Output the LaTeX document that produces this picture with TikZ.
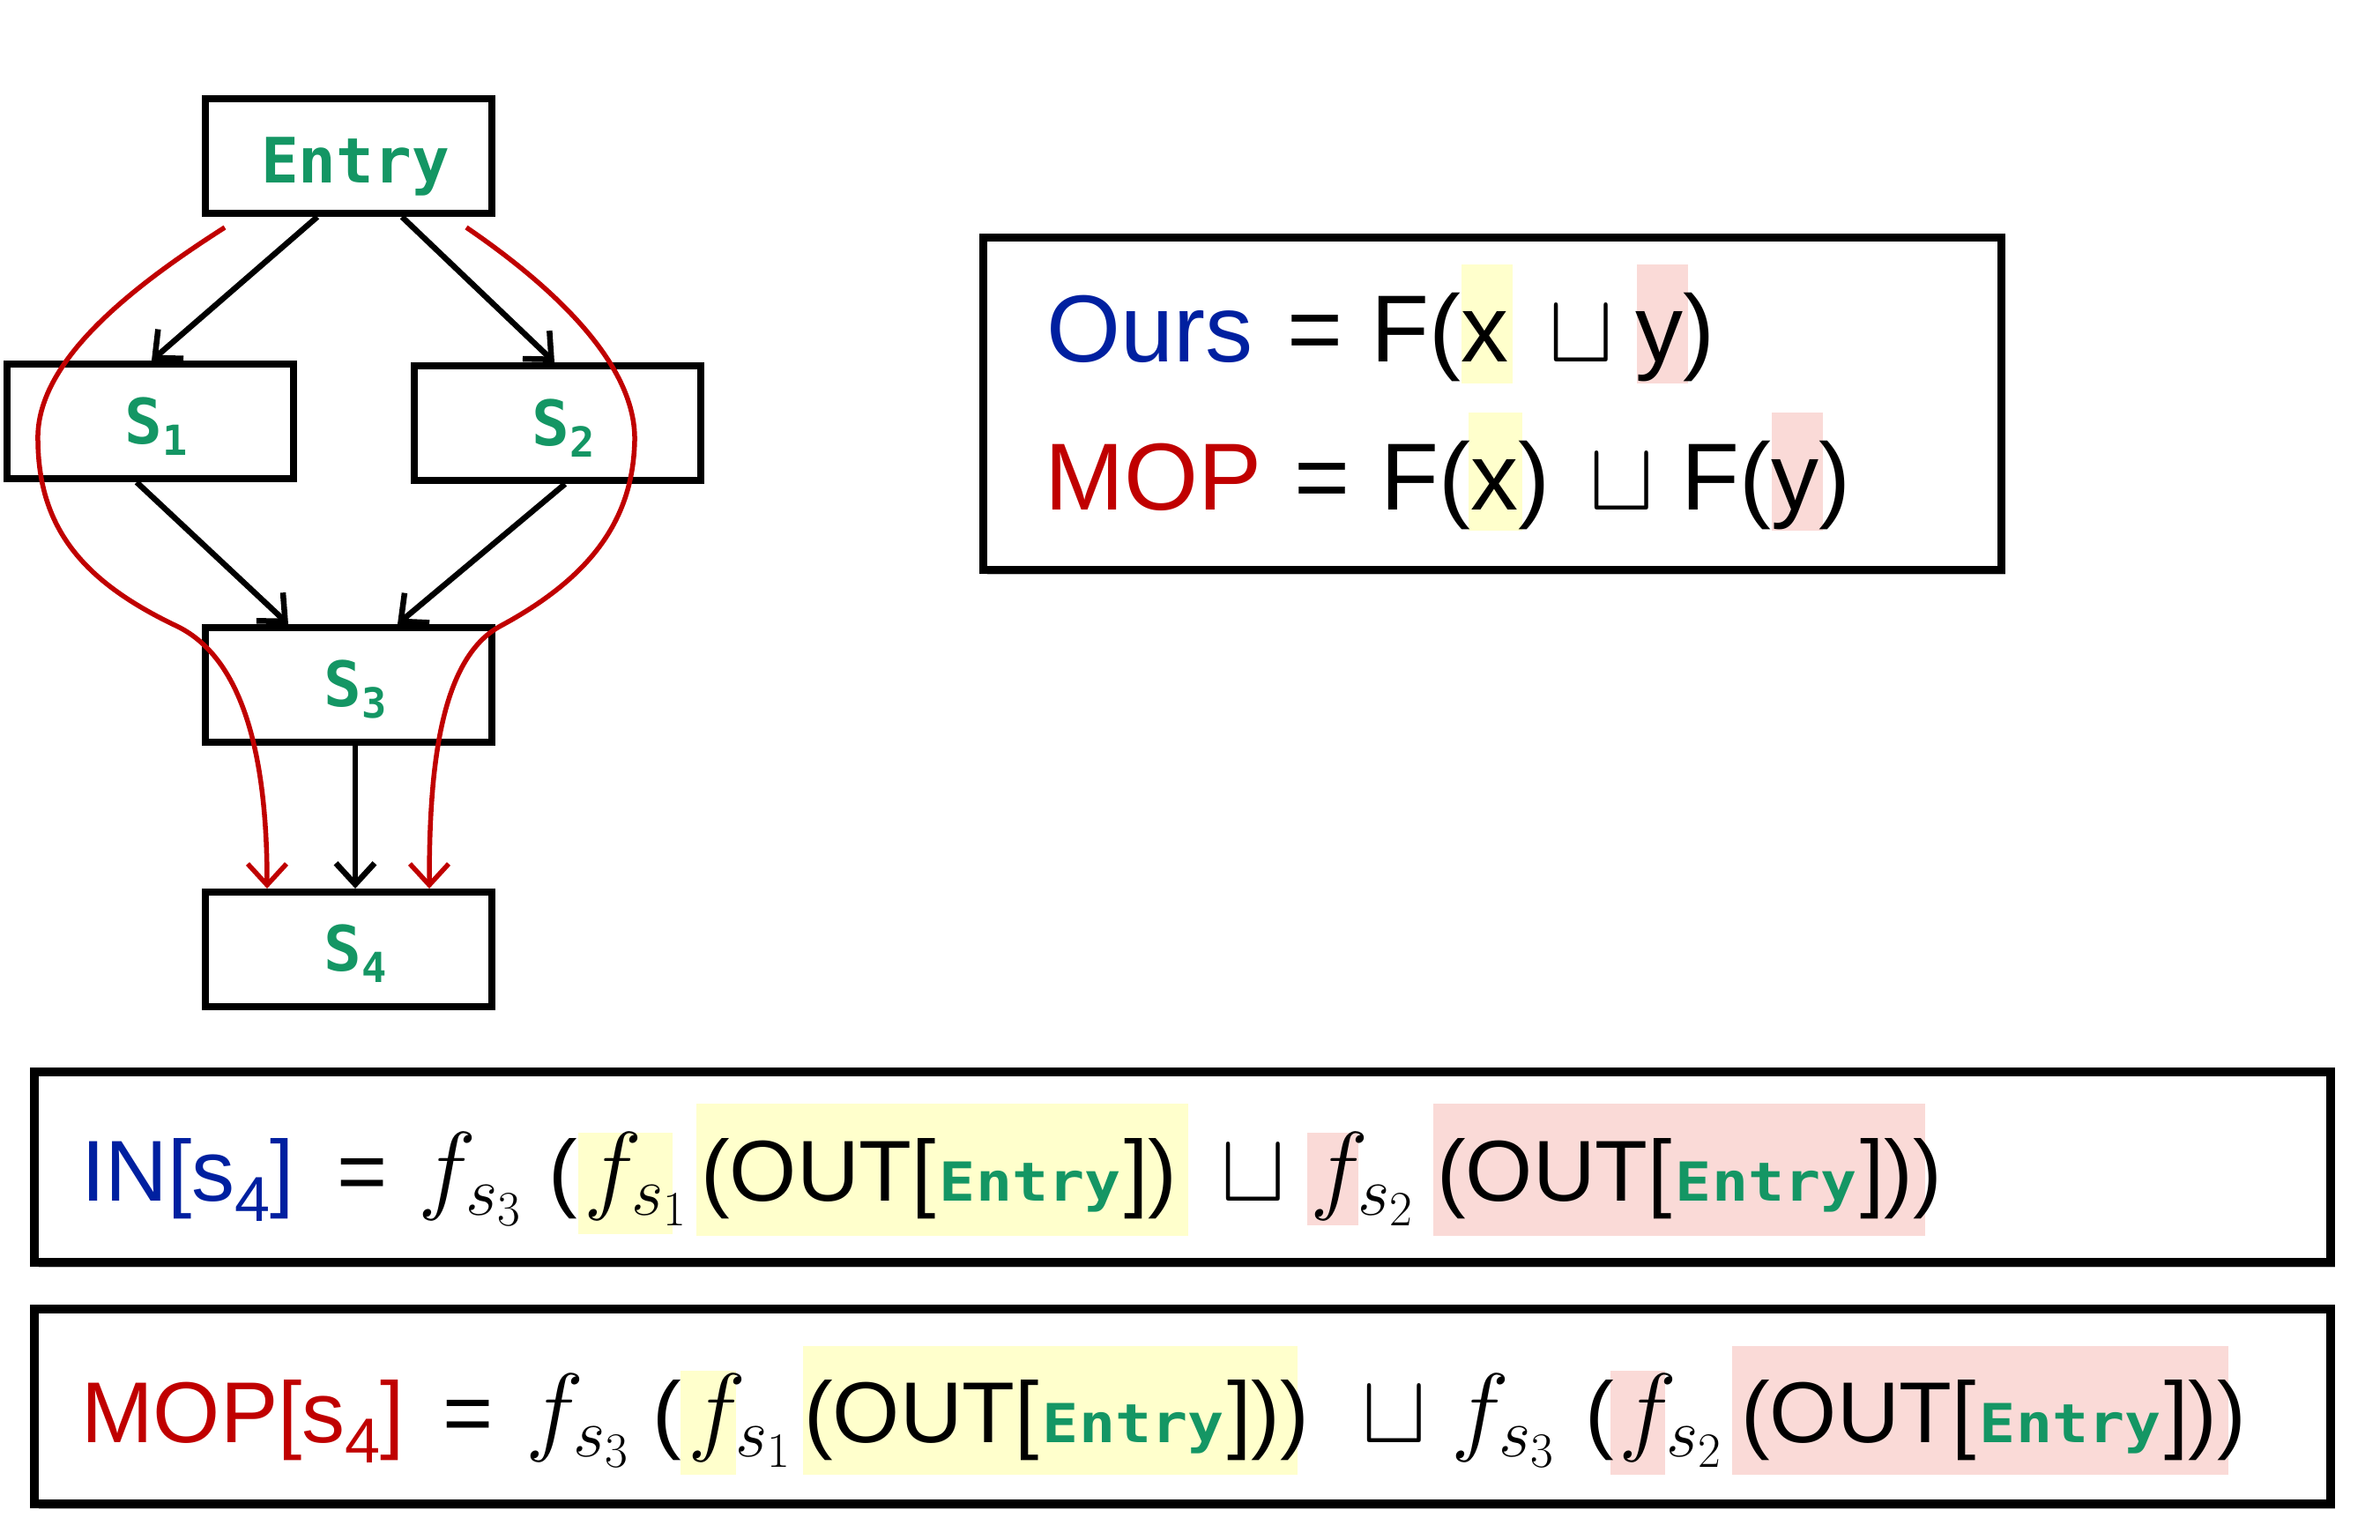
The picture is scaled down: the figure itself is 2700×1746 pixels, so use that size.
\documentclass[tikz,border=0pt]{standalone}
\usepackage{fix-cm}
\usepackage{fontspec}
\setmainfont{Liberation Sans}
\newfontfamily\monof{DejaVu Sans Mono}
\newfontfamily\monowide{DejaVu Sans Mono}[FakeStretch=1.12]
\usetikzlibrary{arrows.meta,shadows}
\definecolor{entgreen}{RGB}{20,150,100}
\definecolor{oursblue}{RGB}{0,32,160}
\definecolor{mopred}{RGB}{192,0,0}
\definecolor{hlyellow}{RGB}{255,255,204}
\definecolor{hlpink}{RGB}{250,218,215}
\newcommand{\setfs}[1]{\fontsize{#1}{#1}\selectfont}
\newcommand{\ent}{{\monowide\bfseries\setfs{61}\color{entgreen}\kern4pt Entry\kern4pt}}
\newcommand{\boxsub}[1]{\raisebox{-13pt}{\setfs{47}#1}}
\newcommand{\eqsub}[1]{\raisebox{-23pt}{\setfs{72}#1}}
\begin{document}
\begin{tikzpicture}[x=1pt,y=-1pt,
  blk/.style={draw=black, line width=8pt, fill=white, minimum width=325pt, minimum height=130pt,
    inner sep=0pt, text=entgreen, font=\monof\bfseries\setfs{71}, text height=50pt, text depth=0pt,
    drop shadow={shadow xshift=4pt, shadow yshift=-4pt, opacity=0.25, fill=black}},
  frame/.style={draw=black, fill=white, inner sep=0pt,
    drop shadow={shadow xshift=5pt, shadow yshift=-6pt, opacity=0.25, fill=black}},
  blkarr/.style={draw=black, line width=6.5pt, -{Straight Barb[length=24pt,width=44pt,line width=6.5pt]}},
  redarr/.style={draw=mopred, line width=5.5pt, -{Straight Barb[length=24pt,width=44pt,line width=5.5pt]}},
  txtA/.style={anchor=base west, inner sep=0pt, font=\setfs{108}},
  txtB/.style={anchor=base west, inner sep=0pt, font=\setfs{98}},
  mathf/.style={anchor=base west, inner sep=0pt, font=\setfs{112}},
  cupA/.style={anchor=base west, inner sep=0pt, font=\setfs{112}}
]
\useasboundingbox (0,0) rectangle (2700,1746);
\fill[white] (0,0) rectangle (2700,1746);

% ---- flow graph ----
\node[blk, text height=60pt] (Entry) at (395,177) {\kern16pt Entry};
\node[blk] (S1) at (170,478) {\kern14ptS\boxsub{1}};
\node[blk] (S2) at (632,480) {\kern14ptS\boxsub{2}};
\node[blk, text height=48pt] (S3) at (395,777) {\kern16ptS\boxsub{3}};
\node[blk, text height=48pt] (S4) at (395,1077) {\kern16ptS\boxsub{4}};

\draw[blkarr] ([xshift=-35pt]Entry.south) -- ([xshift=2pt]S1.north);
\draw[blkarr] ([xshift=61pt]Entry.south) -- ([xshift=-3pt]S2.north);
\draw[blkarr] ([xshift=-15pt]S1.south) -- ([xshift=-68pt]S3.north);
\draw[blkarr] ([xshift=9pt]S2.south) -- ([xshift=56pt]S3.north);
\draw[blkarr] ([xshift=8pt]S3.south) -- ([xshift=8pt]S4.north);

\draw[redarr] ([xshift=-140pt,yshift=-12pt]Entry.south)
  .. controls (150,325) and (40,410) .. (43,500)
  .. controls (44,600) and (95,660) .. (200,710)
  .. controls (284,750) and (303,880) .. ([xshift=-92pt]S4.north);
\draw[redarr] ([xshift=134pt,yshift=-12pt]Entry.south)
  .. controls (620,320) and (722,410) .. (720,500)
  .. controls (718,590) and (670,655) .. (568,710)
  .. controls (497,748) and (487,880) .. ([xshift=92pt]S4.north);

% ---- comparison box ----
\node[frame, line width=9pt, minimum width=1155pt, minimum height=377pt] (cmp) at (1692.5,457.5) {};
\fill[hlyellow] (1658,300) rectangle (1716,435);
\fill[hlpink] (1857,300) rectangle (1915,435);
\fill[hlyellow] (1666,468) rectangle (1727,602);
\fill[hlpink] (2010,468) rectangle (2068,602);
\node[txtA, text=oursblue] (ours) at (1187,410) {Ours};
\node[txtA] (eq1) at (1460,410) {=};
\node[txtA] (fx1) at (1555,410) {F(x};
\node[cupA] (cup1) at (1756,410) {$\sqcup$};
\node[txtA] (y1) at (1855,410) {y)};
\node[txtA, text=mopred] (mop) at (1185,578) {MOP};
\node[txtA] (eq2) at (1468,578) {=};
\node[txtA] (fx2) at (1566,578) {F(x)};
\node[cupA] (cup2) at (1802,578) {$\sqcup$};
\node[txtA] (fy2) at (1907,578) {F(y)};

% ---- IN box ----
\node[frame, line width=10pt, minimum width=2605pt, minimum height=216pt] (inbox) at (1341,1323.5) {};
\fill[hlyellow] (656,1285) rectangle (763,1400);
\fill[hlyellow] (790,1252) rectangle (1348,1402);
\fill[hlpink] (1483,1285) rectangle (1541,1390);
\fill[hlpink] (1626,1252) rectangle (2184,1402);
\node[txtB, text=oursblue] (inlhs) at (92,1362) {IN[s\eqsub{4}]};
\node[txtB] (ineq) at (382,1362) {=};
\node[mathf] (inf3) at (474,1362) {$f_{s_3}$};
\node[txtB] (inp) at (622,1362) {(};
\node[mathf] (inf1) at (662,1362) {$f_{s_1}$};
\node[txtB] (inout1) at (795,1362) {(OUT[\ent])};
\node[cupA] (incup) at (1384,1362) {$\sqcup$};
\node[mathf] (inf2) at (1486,1362) {$f_{s_2}$};
\node[txtB] (inout2) at (1630,1362) {(OUT[\ent]))};

% ---- MOP box ----
\node[frame, line width=10pt, minimum width=2605pt, minimum height=221pt] (mopbox) at (1341,1595) {};
\fill[hlyellow] (772,1555) rectangle (835,1673);
\fill[hlyellow] (911,1527) rectangle (1472,1673);
\fill[hlpink] (1827,1555) rectangle (1889,1673);
\fill[hlpink] (1965,1527) rectangle (2528,1673);
\node[txtB, text=mopred] (moplhs) at (92,1636) {MOP[s\eqsub{4}]};
\node[txtB] (mopeq) at (502,1636) {=};
\node[mathf] (mopf3a) at (596,1636) {$f_{s_3}$};
\node[txtB] (mopp1) at (740,1636) {(};
\node[mathf] (mopf1) at (780,1636) {$f_{s_1}$};
\node[txtB] (mopout1) at (912,1636) {(OUT[\ent]))};
\node[cupA] (mopcup) at (1544,1636) {$\sqcup$};
\node[mathf] (mopf3b) at (1646,1636) {$f_{s_3}$};
\node[txtB] (mopp2) at (1798,1636) {(};
\node[mathf] (mopf2) at (1836,1636) {$f_{s_2}$};
\node[txtB] (mopout2) at (1975,1636) {(OUT[\ent]))};
\end{tikzpicture}
\end{document}
